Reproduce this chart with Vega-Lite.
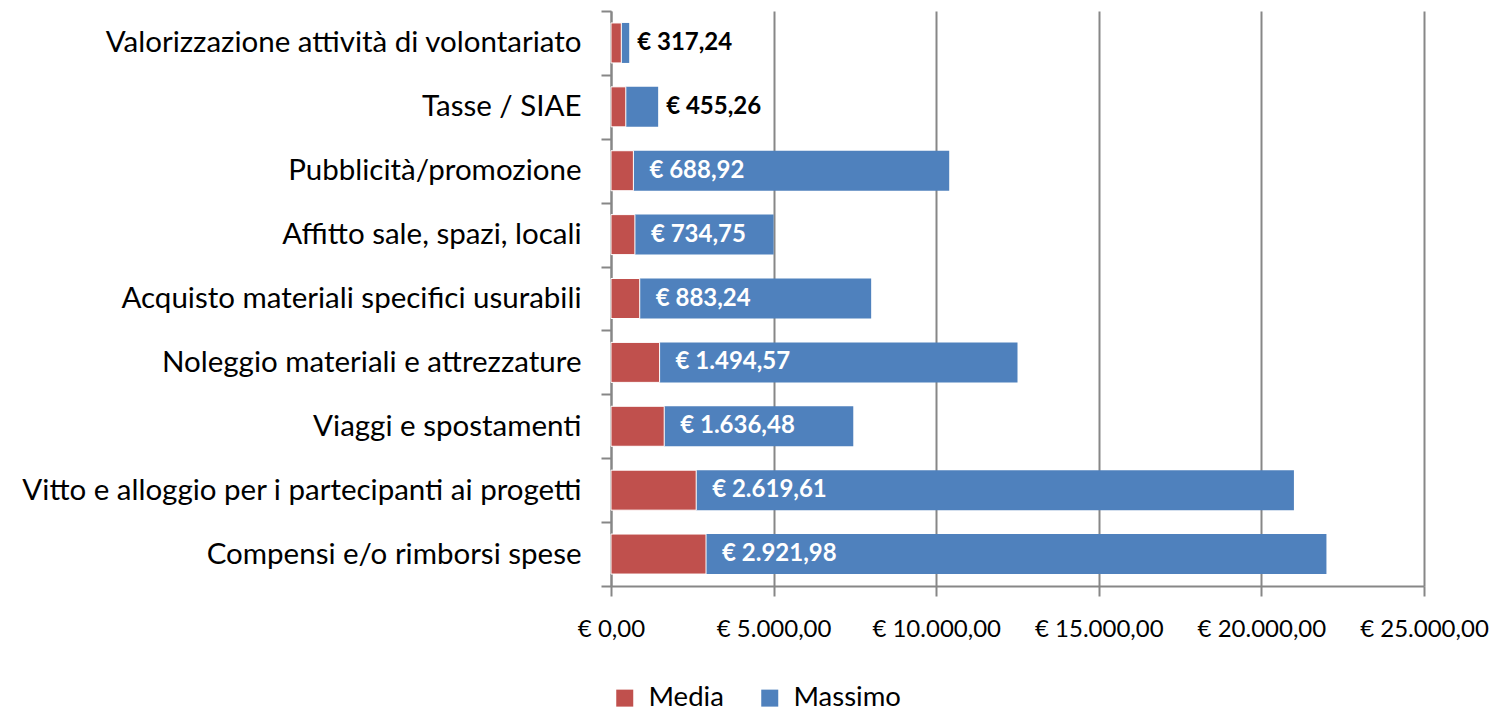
{
  "$schema": "https://vega.github.io/schema/vega-lite/v6.json",
  "width": 813,
  "height": 575,
  "autosize": "none",
  "padding": {"left": 611, "top": 11, "right": 68, "bottom": 127},
  "background": "white",
  "config": {
    "locale": {"number": {"decimal": ",", "thousands": ".", "grouping": [3], "currency": ["€ ", ""]}},
    "view": {"stroke": null},
    "font": "Lato"
  },
  "data": {
    "values": [
      {"voce": "Valorizzazione attività di volontariato\u00a0", "media": 317.24, "massimo": 560},
      {"voce": "Tasse / SIAE", "media": 455.26, "massimo": 1450},
      {"voce": "Pubblicità/promozione", "media": 688.92, "massimo": 10400},
      {"voce": "Affitto sale, spazi, locali\u00a0", "media": 734.75, "massimo": 5000},
      {"voce": "Acquisto materiali specifici usurabili", "media": 883.24, "massimo": 8000},
      {"voce": "Noleggio materiali e attrezzature", "media": 1494.57, "massimo": 12500},
      {"voce": "Viaggi e spostamenti", "media": 1636.48, "massimo": 7450},
      {"voce": "Vitto e alloggio per i partecipanti ai progetti", "media": 2619.61, "massimo": 21000},
      {"voce": "Compensi e/o rimborsi spese", "media": 2921.98, "massimo": 22000}
    ]
  },
  "encoding": {
    "y": {
      "field": "voce",
      "type": "nominal",
      "sort": null,
      "scale": {"paddingInner": 0, "paddingOuter": 0},
      "axis": {
        "title": null,
        "tickBand": "extent",
        "tickSize": 10,
        "tickWidth": 2,
        "tickColor": "#878787",
        "domainColor": "#878787",
        "domainWidth": 2,
        "labelFont": "Lato",
        "labelFontSize": 29.5,
        "labelColor": "#000000",
        "labelPadding": 20,
        "labelLimit": 700,
        "grid": false
      }
    }
  },
  "layer": [
    {
      "mark": {"type": "bar", "size": 40},
      "encoding": {
        "x": {
          "field": "media",
          "type": "quantitative",
          "scale": {"domain": [0, 25000], "nice": false},
          "axis": {
            "title": null,
            "values": [0, 5000, 10000, 15000, 20000, 25000],
            "format": "$,.2f",
            "grid": true,
            "gridColor": "#878787",
            "gridWidth": 2,
            "tickSize": 10,
            "tickWidth": 2,
            "tickColor": "#878787",
            "domainColor": "#878787",
            "domainWidth": 2,
            "labelFont": "Lato",
            "labelFontSize": 24,
            "labelColor": "#000000",
            "labelPadding": 21,
            "labelFlush": false,
            "labelOverlap": false
          }
        },
        "x2": {"field": "massimo"},
        "color": {
          "datum": "Massimo",
          "scale": {"domain": ["Media", "Massimo"], "range": ["#C0504D", "#4F81BD"]},
          "legend": {
            "title": null,
            "orient": "none",
            "legendX": 0,
            "legendY": 673,
            "direction": "horizontal",
            "symbolType": "square",
            "symbolSize": 289,
            "symbolStrokeWidth": 0,
            "labelFont": "Lato",
            "labelFontSize": 27.5,
            "labelColor": "#000000",
            "labelOffset": 10,
            "columnPadding": 32
          }
        }
      }
    },
    {
      "mark": {"type": "bar", "size": 40, "stroke": "white", "strokeWidth": 1},
      "encoding": {
        "x": {"field": "media", "type": "quantitative"},
        "color": {"datum": "Media"}
      }
    },
    {
      "transform": [{"filter": "datum.massimo - datum.media > 3000"}],
      "mark": {"type": "text", "align": "left", "baseline": "middle", "dx": 16, "font": "Lato", "fontWeight": "bold", "fontSize": 24, "color": "white"},
      "encoding": {
        "x": {"field": "media", "type": "quantitative"},
        "text": {"field": "media", "type": "quantitative", "format": "$,.2f"}
      }
    },
    {
      "transform": [{"filter": "datum.massimo - datum.media <= 3000"}],
      "mark": {"type": "text", "align": "left", "baseline": "middle", "dx": 8, "font": "Lato", "fontWeight": "bold", "fontSize": 24, "color": "black"},
      "encoding": {
        "x": {"field": "massimo", "type": "quantitative"},
        "text": {"field": "media", "type": "quantitative", "format": "$,.2f"}
      }
    }
  ]
}
